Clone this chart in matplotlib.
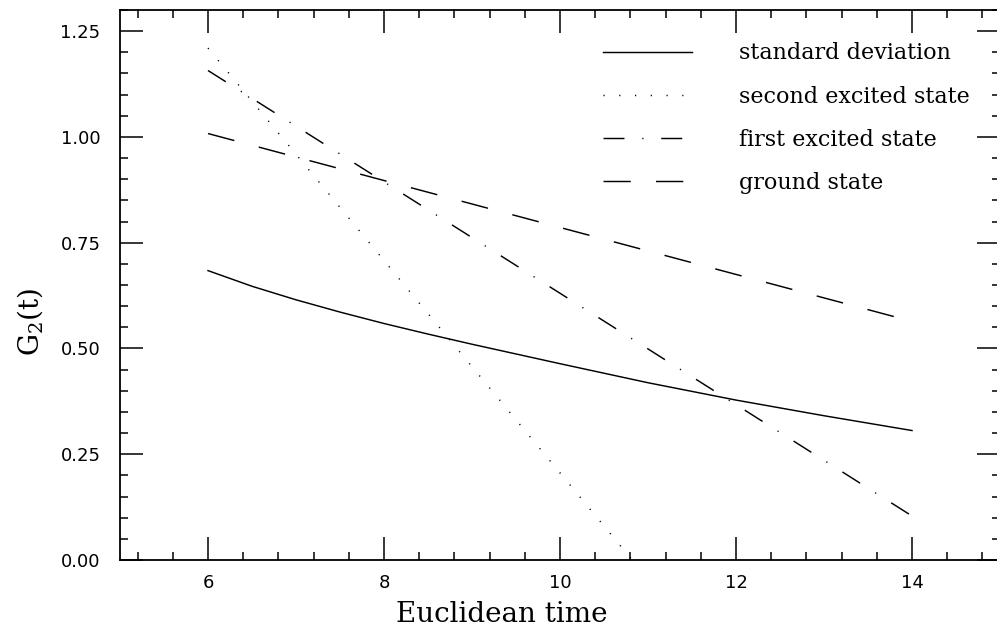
import numpy as np
import matplotlib
matplotlib.use("Agg")
import matplotlib.pyplot as plt
from matplotlib.ticker import MultipleLocator, FixedLocator

# valeurs
t_std = [6.0, 6.5, 7.0, 7.5, 8.0, 8.5, 9.0, 9.5, 10.0, 11.0, 12.0, 13.0, 14.0]
g_std = [0.684, 0.647, 0.615, 0.586, 0.559, 0.534, 0.510, 0.487, 0.464,
         0.419, 0.378, 0.341, 0.306]

t_second = [6.0, 10.82]
g_second = [1.21, 0.0]

t_first = [6.0, 14.0]
g_first = [1.157, 0.104]

t_ground = [6.0, 14.0]
g_ground = [1.008, 0.564]

labels = ["standard deviation", "second excited state",
          "first excited state", "ground state"]

fig = plt.figure(figsize=(9.97, 6.37), dpi=100)
ax = fig.add_axes([120 / 997, 77 / 637, 880 / 997, 550 / 637])

lw = 1.05
ax.plot(t_std, g_std, color="black", lw=lw, label=labels[0])
ax.plot(t_second, g_second, color="black", lw=lw, linestyle=(0, (0.8, 10)),
        label=labels[1])
ax.plot(t_first, g_first, color="black", lw=lw,
        linestyle=(0, (14.4, 12.2, 0.8, 12.2)), label=labels[2])
ax.plot(t_ground, g_ground, color="black", lw=lw,
        linestyle=(0, (18.7, 17.3)), label=labels[3])

ax.set_xlim(5, 15)
ax.set_ylim(0, 1.3)

ax.xaxis.set_major_locator(FixedLocator([6, 8, 10, 12, 14]))
ax.xaxis.set_minor_locator(MultipleLocator(0.4))
ax.yaxis.set_major_locator(FixedLocator([0, 0.25, 0.5, 0.75, 1.0, 1.25]))
ax.yaxis.set_minor_locator(MultipleLocator(0.05))
ax.set_yticklabels(["0.00", "0.25", "0.50", "0.75", "1.00", "1.25"])

ax.tick_params(which="both", direction="in", top=True, right=True,
               width=1.1, labelsize=13)
ax.tick_params(which="major", length=16.5)
ax.tick_params(which="minor", length=5.8)
ax.tick_params(axis="x", pad=10)
ax.tick_params(axis="y", pad=14)
for s in ax.spines.values():
    s.set_linewidth(1.3)

ax.set_xlabel("Euclidean time", family="DejaVu Serif", fontsize=20)
ax.xaxis.set_label_coords(0.4335, -0.075)
ax.set_ylabel(r"$\mathregular{G_2(t)}$", family="DejaVu Serif", fontsize=20)
ax.yaxis.set_label_coords(-0.085, 0.433)

ax.legend(loc="upper left", bbox_to_anchor=(0.549, 0.941), frameon=False,
          prop={"family": "DejaVu Serif", "size": 16},
          handlelength=4.0, handletextpad=2.1, labelspacing=0.95,
          borderpad=0, borderaxespad=0)

fig.savefig("out.png", dpi=100)
